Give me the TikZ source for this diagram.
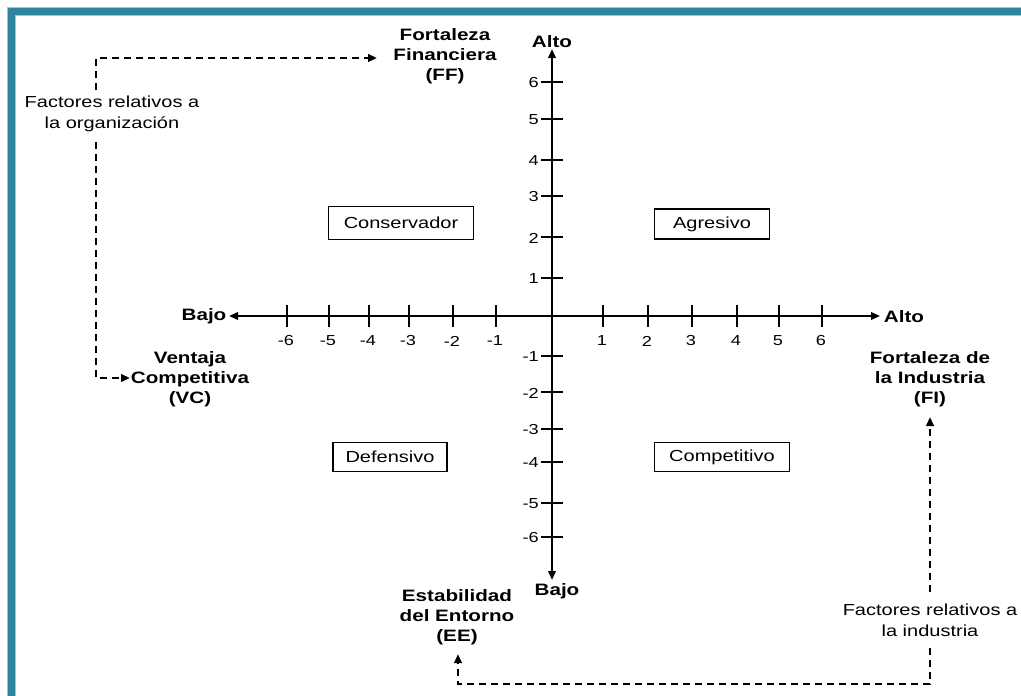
\documentclass[tikz,border=0pt]{standalone}
\usepackage{fontspec}
\setmainfont[FakeStretch=1.25]{Liberation Sans}
\usetikzlibrary{arrows.meta}
\definecolor{frameteal}{RGB}{46,133,158}
\begin{document}
\begin{tikzpicture}[x=1pt,y=-1pt,
  arr/.style={-{Triangle[length=9pt,width=7.5pt]}},
  axisline/.style={line width=2pt,{Triangle[length=9pt,width=7.5pt]}-{Triangle[length=9pt,width=7.5pt]}},
  tickmark/.style={line width=1.8pt},
  dashline/.style={line width=2.2pt,dash pattern=on 7pt off 5pt},
  ticklbl/.style={font=\fontsize{14.5}{16}\selectfont,inner sep=0pt},
  quad/.style={draw,line width=1.6pt,inner sep=0pt,font=\fontsize{16}{18}\selectfont},
  lbl/.style={font=\fontsize{16.5}{20}\selectfont\bfseries,align=center,inner sep=0pt},
  note/.style={font=\fontsize{16}{21}\selectfont,align=center,inner sep=0pt}]
\useasboundingbox (0,0) rectangle (1021,696);
\clip (0,0) rectangle (1021,696);
\fill[white] (0,0) rectangle (1021,696);
% frame along the top and left edges
\draw[frameteal!45,line width=9pt] (11.5,710) -- (11.5,11.5) -- (1030,11.5);
\draw[frameteal,line width=7pt] (11.5,710) -- (11.5,11.5) -- (1030,11.5);

% axes
\coordinate (O) at (552,316);
\coordinate (xl) at (229,316);
\coordinate (xr) at (880,316);
\coordinate (yt) at (552,49);
\coordinate (yb) at (552,580);
\draw[axisline] (xl) -- (xr);
\draw[axisline] (yt) -- (yb);

% horizontal ticks
\foreach \x/\l in {287/-6,329/-5,369/-4,409/-3,453/-2,496/-1,603/1,648/2,692/3,737/4,779/5,822/6}{
  \draw[tickmark] (\x,305) -- (\x,327);
  \node[ticklbl] (tx\x) at (\x-1,341) {\l};
}
% vertical ticks
\foreach \y/\l in {82/6,119/5,160/4,196/3,237/2,278/1,356/-1,392/-2,429/-3,462/-4,503/-5,537/-6}{
  \draw[tickmark] (541,\y) -- (563,\y);
  \node[ticklbl,anchor=east] (ty\y) at (539,\y+1) {\l};
}

% axis end labels
\node[lbl] (bajoL) at (204,316) {Bajo};
\node[lbl] (altoR) at (904,317) {Alto};
\node[lbl] (altoT) at (552,42) {Alto};
\node[lbl] (bajoB) at (557,591) {Bajo};

% quadrants
\node[quad,minimum width=145pt,minimum height=33pt] (cons) at (401,223) {Conservador};
\node[quad,minimum width=115pt,minimum height=30pt] (agr) at (712,224) {Agresivo};
\node[quad,minimum width=114pt,minimum height=29pt] (def) at (390,457) {Defensivo};
\node[quad,minimum width=135pt,minimum height=29pt] (comp) at (722,457) {Competitivo};

% factor labels
\node[lbl] (FF) at (445,56) {Fortaleza\\Financiera\\(FF)};
\node[lbl] (VC) at (190,379) {Ventaja\\Competitiva\\(VC)};
\node[lbl] (FI) at (930,379) {Fortaleza de\\la Industria\\(FI)};
\node[lbl] (EE) at (457,617) {Estabilidad\\del Entorno\\(EE)};
\node[note] (org) at (112,114) {Factores relativos a\\la organización};
\node[note] (ind) at (930,620) {Factores relativos a\\la industria};

% dashed connectors
\coordinate (orgtop) at (96,90);
\coordinate (orgbot) at (96,142);
\coordinate (ffin) at (377,58);
\coordinate (vcin) at (130,378);
\draw[dashline,arr] (orgtop) |- (ffin);
\draw[dashline,arr] (orgbot) |- (vcin);

\coordinate (indtop) at (930,592);
\coordinate (fiin) at (930,417);
\coordinate (indbot) at (930,648);
\coordinate (cbr) at (930,684);
\coordinate (cbl) at (458,684);
\coordinate (eein) at (458,654);
\draw[dashline,arr] (indtop) -- (fiin);
\draw[dashline,arr] (indbot) -- (cbr) -- (cbl) -- (eein);
\end{tikzpicture}
\end{document}
